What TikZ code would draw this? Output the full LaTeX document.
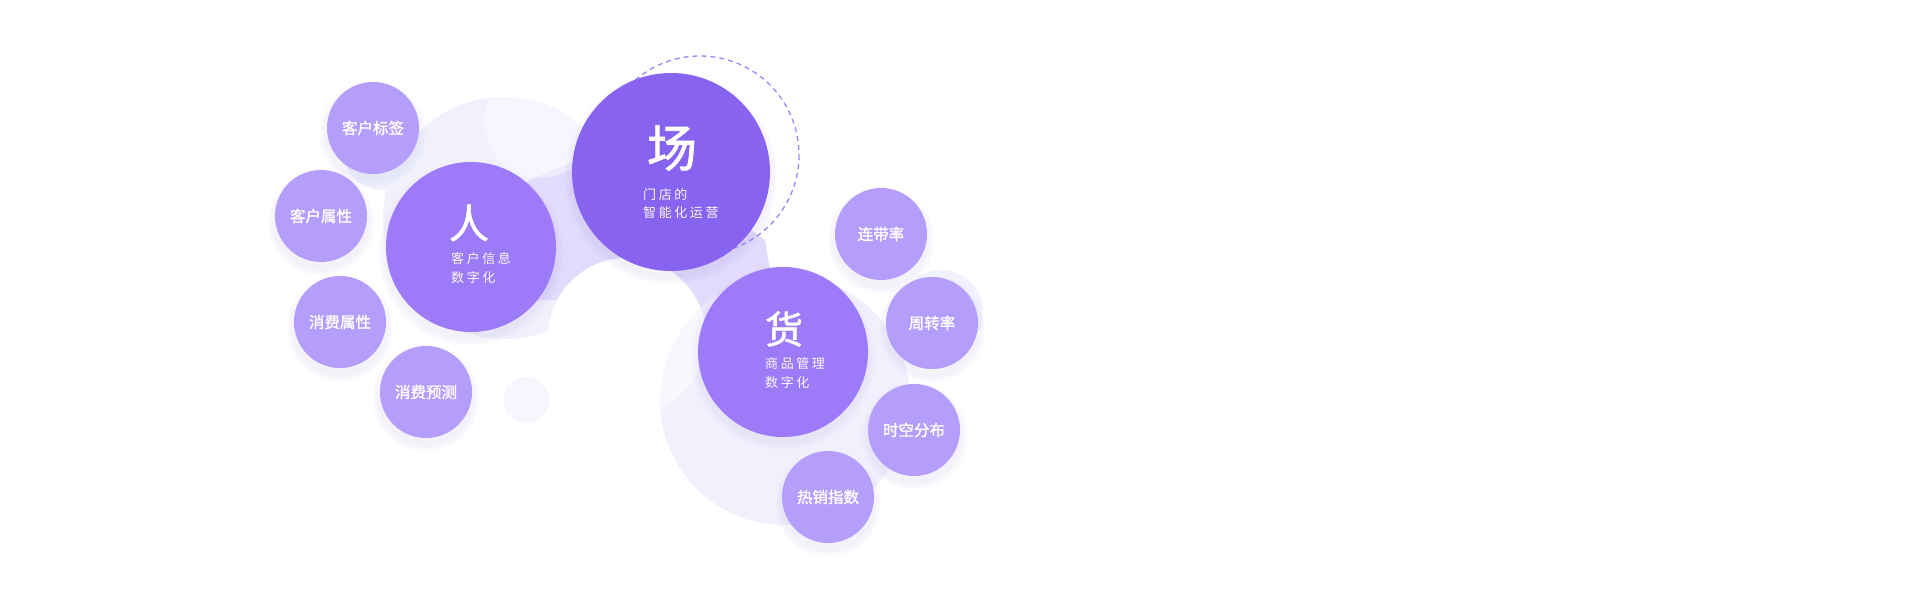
\documentclass[tikz,border=0pt]{standalone}
\usepackage{fontspec}
\newfontfamily\cjk{Noto Sans CJK SC}
\newfontfamily\cjkm[FakeBold=1.5]{Noto Sans CJK SC}
\newfontfamily\cjksp[LetterSpace=20]{Noto Sans CJK SC}
\definecolor{chang}{HTML}{8763EF}
\definecolor{mainc}{HTML}{9D7BF8}
\definecolor{smallc}{HTML}{B59DFC}
\definecolor{faint}{HTML}{F3F0FE}
\definecolor{midlav}{HTML}{E3DBFC}
\definecolor{dashc}{HTML}{9E86F3}
\definecolor{shadc}{HTML}{6A4FD0}
\definecolor{bluef}{HTML}{F1F2FD}
\tikzset{
  bigchar/.style={text=white, inner sep=0pt},
  subline/.style={text=white, font=\cjksp\fontsize{13}{15}\selectfont, inner sep=0pt, anchor=west, opacity=0.95},
  lbl/.style={text=white, font=\cjkm\fontsize{15.5}{17}\selectfont, inner sep=0pt},
  smallcirc/.style={circle, fill=smallc, minimum size=92pt, inner sep=0pt, lbl},
}
\newcommand\softshadow[3]{%
  \foreach \k in {1,...,6}{\fill[shadc, opacity=0.012] (#1,{#2+6}) circle ({#3+\k*1.3});}%
}
\begin{document}
\begin{tikzpicture}[x=1pt,y=-1pt]
\useasboundingbox (0,0) rectangle (1919,605);
\fill[white] (0,0) rectangle (1919,605);
% faint background circles
\fill[faint] (504,218) circle (121);
\fill[faint] (785,400) circle (125);
\fill[bluef] (383,150) circle (40);
\fill[bluef] (941,312) circle (42);
\fill[faint!70!white] (526,400) circle (23);
% medium lavender band
\fill[midlav] (470,247) -- (530,180) -- (600,150) -- (671,172) -- (765,240) -- (783,352) -- (700,362) -- (560,300) -- (480,300) -- cycle;
% whitish carvings
\fill[white, opacity=0.4] (540,122) circle (56);
\fill[white] (627,337) circle (79);
\fill[faint, opacity=0.5] (785,400) circle (125);
% dashed ring
\draw[dashc, line width=1.3pt, dash pattern=on 5pt off 4pt] (700,155) circle (99);
% shadows
\softshadow{671}{172}{99}
\softshadow{471}{247}{85}
\softshadow{783}{352}{85}
\softshadow{373}{128}{46}
\softshadow{321}{216}{46}
\softshadow{340}{322}{46}
\softshadow{426}{392}{46}
\softshadow{881}{234}{46}
\softshadow{932}{323}{46}
\softshadow{914}{430}{46}
\softshadow{828}{497}{46}
% main circles
\node[circle, fill=chang, minimum size=198pt, inner sep=0pt] (chang) at (671,172) {};
\node[circle, fill=mainc, minimum size=170pt, inner sep=0pt] (ren) at (471,247) {};
\node[circle, fill=mainc, minimum size=170pt, inner sep=0pt] (huo) at (783,352) {};
% main texts
\node[bigchar, font=\cjkm\fontsize{50}{50}\selectfont] (changc) at (672,148) {场};
\node[subline] (changs1) at (643,195) {门店的};
\node[subline] (changs2) at (643,213) {智能化运营};
\node[bigchar, font=\cjkm\fontsize{40}{40}\selectfont] (renc) at (469,223) {人};
\node[subline] (rens1) at (451,259) {客户信息};
\node[subline] (rens2) at (451,278) {数字化};
\node[bigchar, font=\cjkm\fontsize{38}{38}\selectfont] (huoc) at (784,329) {货};
\node[subline] (huos1) at (765,364) {商品管理};
\node[subline] (huos2) at (765,383) {数字化};
% small circles
\node[smallcirc] (s1) at (373,128) {客户标签};
\node[smallcirc] (s2) at (321,216) {客户属性};
\node[smallcirc] (s3) at (340,322) {消费属性};
\node[smallcirc] (s4) at (426,392) {消费预测};
\node[smallcirc] (s5) at (881,234) {连带率};
\node[smallcirc] (s6) at (932,323) {周转率};
\node[smallcirc] (s7) at (914,430) {时空分布};
\node[smallcirc] (s8) at (828,497) {热销指数};
\end{tikzpicture}
\end{document}
